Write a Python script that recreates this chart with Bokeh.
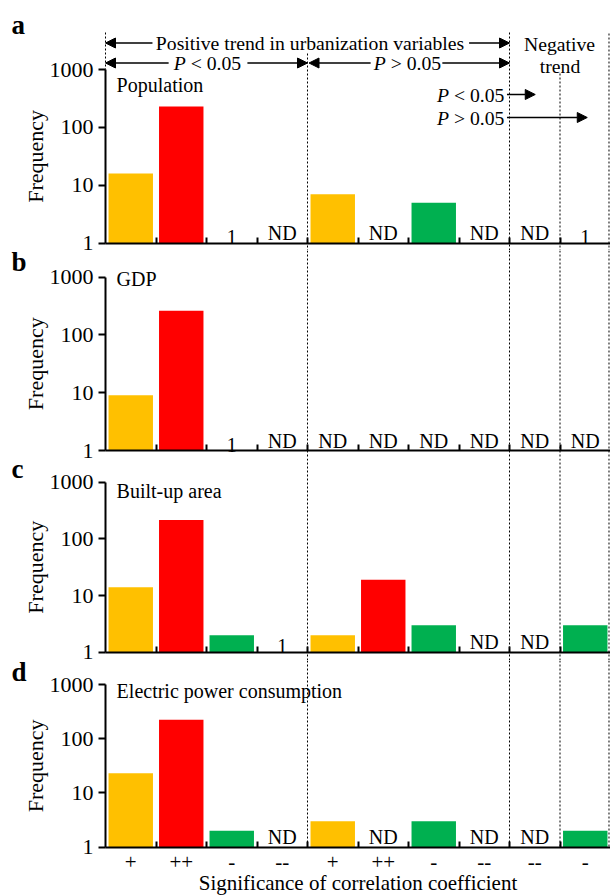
import math
from bokeh.plotting import figure
from bokeh.models import (Range1d, FixedTicker, Span, Label, Arrow, NormalHead)
from bokeh.layouts import column
from bokeh.embed import file_html
from bokeh.resources import INLINE
from bokeh.core.properties import value

# ---------------- data ----------------
categories = ["+", "++", "-", "--", "+", "++", "-", "--", "--", "-"]
bar_colors = ["#FFC000", "#FF0000", "#00B050", "#00B050", "#FFC000",
              "#FF0000", "#00B050", "#00B050", "#00B050", "#00B050"]
# None = no data (ND); 1 = single case (printed as "1")
population = [16, 230, 1, None, 7, None, 5, None, None, 1]
gdp = [9, 260, 1, None, None, None, None, None, None, None]
built_up = [14, 216, 2, 1, 2, 19, 3, None, None, 3]
electric = [23, 224, 2, None, 3, None, 3, None, None, 2]
panel_names = ["Population", "GDP", "Built-up area", "Electric power consumption"]
panel_letters = ["a", "b", "c", "d"]
y_ticks = [1, 10, 100, 1000]
group_bounds = [4, 8, 9, 10]
x_title = "Significance of correlation coefficient"
y_title = "Frequency"

FONT = "Liberation Serif"
W = 610
UNIT = 50.5                 # pixels per category
XL = -105 / UNIT            # left edge of the frame in category units
DASH = "2 2"
ANN = "19.7px"


class Geo:
    """pixel layout of one panel: figure height, baseline (y=1) and y=1000 rows"""
    def __init__(self, h, base_px, top_px):
        self.h, self.b, self.t = h, base_px, top_px
        self.d = (base_px - top_px) / 3.0

    def y(self, px):
        return 10 ** ((self.b - px) / self.d)


def make_panel(values, name, letter, g, name_px, letter_px, last=False):
    p = figure(width=W, height=g.h, x_range=Range1d(XL, 10),
               y_range=Range1d(g.y(g.h), g.y(0)), y_axis_type="log",
               output_backend="svg", toolbar_location=None,
               min_border=0, min_border_left=0, min_border_right=0,
               min_border_top=0, min_border_bottom=0)
    p.outline_line_color = None
    p.grid.visible = False
    p.background_fill_color = "white"
    p.border_fill_color = "white"

    # y axis, fixed at x = 0 inside the frame
    ya = p.yaxis[0]
    ya.fixed_location = 0
    ya.ticker = FixedTicker(ticks=y_ticks, minor_ticks=[])
    ya.bounds = (1, 1000)
    ya.major_label_overrides = {t: str(t) for t in y_ticks}
    ya.major_label_text_font = FONT
    ya.major_label_text_font_size = "22px"
    ya.major_label_text_color = "black"
    ya.major_label_standoff = 5
    ya.major_tick_out = 7
    ya.major_tick_in = 0
    ya.major_tick_line_width = 2
    ya.axis_line_width = 2
    ya.axis_line_color = "black"

    # x axis, fixed at y = 1
    centers = [i + 0.5 for i in range(len(categories))]
    xa = p.xaxis[0]
    xa.fixed_location = 1
    xa.bounds = (0, 10)
    xa.major_tick_in = 0
    xa.major_tick_out = 0
    xa.minor_tick_in = 6
    xa.minor_tick_out = 0
    xa.minor_tick_line_width = 2
    xa.minor_tick_line_color = "black"
    xa.axis_line_width = 2
    xa.axis_line_color = "black"
    if last:
        xa.ticker = FixedTicker(ticks=centers, minor_ticks=list(range(1, len(categories))))
        xa.major_label_overrides = {c: lab for c, lab in zip(centers, categories)}
        xa.major_label_text_font = FONT
        xa.major_label_text_color = "black"
        xa.major_label_text_font_size = "21px"
        xa.major_label_standoff = 8
    else:
        xa.ticker = FixedTicker(ticks=[], minor_ticks=list(range(1, len(categories))))
        xa.major_label_standoff = 0

    # y title and panel letter
    p.add_layout(Label(x=(35 - 105) / UNIT, y=g.y((g.t + g.b) / 2),
                       text=y_title, angle=math.pi / 2, text_font=FONT,
                       text_font_size="22px", text_align="center",
                       text_baseline="middle", text_color="black"))
    p.add_layout(Label(x=(11 - 105) / UNIT, y=g.y(letter_px), text=letter,
                       text_font=FONT, text_font_size="27px", text_font_style="bold",
                       text_baseline="middle", text_align="left", text_color="black"))

    # bars and the "1" / "ND" notes
    bx, bt, bc = [], [], []
    tx, tt = [], []
    for c, v, col in zip(centers, values, bar_colors):
        if v is None:
            tx.append(c); tt.append("ND")
        elif v <= 1:
            tx.append(c); tt.append("1")
        else:
            bx.append(c); bt.append(v); bc.append(col)
    p.vbar(x=bx, top=bt, bottom=1, width=0.88, fill_color=bc, line_color=None)
    p.text(x=tx, y=[1] * len(tx), text=tt, text_font=value(FONT),
           text_font_size=value("20px"), text_align="center",
           text_baseline="bottom", y_offset=1, text_color="black")

    # panel name
    p.add_layout(Label(x=0.22, y=g.y(name_px), text=name,
                       text_font=FONT, text_font_size="20px",
                       text_baseline="middle", text_align="left", text_color="black"))
    return p


def label_p(p, g, x, ypx, rest, align="left"):
    """italic P followed by upright relation text"""
    y = g.y(ypx)
    if align == "left":
        p.add_layout(Label(x=x, y=y, text="P", text_font=FONT, text_font_size=ANN,
                           text_font_style="italic", text_baseline="middle",
                           text_align="left", text_color="black"))
        p.add_layout(Label(x=x, y=y, x_offset=17, text=rest, text_font=FONT,
                           text_font_size=ANN, text_baseline="middle",
                           text_align="left", text_color="black"))
    else:
        p.add_layout(Label(x=x, y=y, text=rest, text_font=FONT, text_font_size=ANN,
                           text_baseline="middle", text_align="right", text_color="black"))
        p.add_layout(Label(x=x, y=y, x_offset=-55.5, text="P", text_font=FONT,
                           text_font_size=ANN, text_font_style="italic",
                           text_baseline="middle", text_align="right", text_color="black"))


def arrow(p, g, x0, x1, ypx):
    y = g.y(ypx)
    p.add_layout(Arrow(end=NormalHead(size=10, fill_color="black", line_color="black"),
                       x_start=x0, y_start=y, x_end=x1, y_end=y,
                       line_color="black", line_width=1.5))


# ---------------- panels ----------------
ga = Geo(250, 242.7, 69)
gb = Geo(208, 200, 26.5)
gc = Geo(202, 193.7, 23.7)
gd = Geo(235, 186.7, 24)

pa = make_panel(population, panel_names[0], panel_letters[0], ga, 84, 24)
pb = make_panel(gdp, panel_names[1], panel_letters[1], gb, 28.5, 11)
pc = make_panel(built_up, panel_names[2], panel_letters[2], gc, 32, 10)
pd = make_panel(electric, panel_names[3], panel_letters[3], gd, 30, 11, last=True)

# separators: full height in b and c
for p in (pb, pc):
    for x in group_bounds:
        p.add_layout(Span(location=min(x, 9.97), dimension="height", line_color="black",
                          line_width=1, line_dash=DASH))

# panel a separators (start heights differ)
sep_x = [0, 4, 8, 9, 9.97]
sep_top_px = [32, 53, 32, 73, 33]
sep_bottom = [1000] + [ga.y(ga.h)] * 4
pa.segment(x0=sep_x, x1=sep_x, y0=[ga.y(t) for t in sep_top_px],
           y1=sep_bottom, line_color="black", line_width=1, line_dash=DASH)

# panel d separators stop at the baseline
dx = [min(x, 9.97) for x in group_bounds]
pd.segment(x0=dx, x1=dx, y0=[gd.y(0)] * len(dx), y1=[1] * len(dx),
           line_color="black", line_width=1, line_dash=DASH)

# x title
pd.add_layout(Label(x=5, y=gd.y(222), text=x_title, text_font=FONT,
                    text_font_size="21px", text_align="center",
                    text_baseline="middle", text_color="black"))

# annotation rows in panel a
r1, r2, r3, r4 = 42.5, 62.5, 94, 117
arrow(pa, ga, 0.93, 0.0, r1)
pa.add_layout(Label(x=4.05, y=ga.y(r1),
                    text="Positive trend in urbanization variables", text_font=FONT,
                    text_font_size=ANN, text_align="center",
                    text_baseline="middle", text_color="black"))
arrow(pa, ga, 7.2, 8.0, r1)

arrow(pa, ga, 1.25, 0.0, r2)
label_p(pa, ga, 1.35, r2, "< 0.05")
arrow(pa, ga, 2.81, 4.0, r2)
arrow(pa, ga, 5.25, 4.03, r2)
label_p(pa, ga, 5.31, r2, "> 0.05")
arrow(pa, ga, 6.67, 8.0, r2)

pa.add_layout(Label(x=8.99, y=ga.y(43), text="Negative", text_font=FONT,
                    text_font_size=ANN, text_align="center",
                    text_baseline="middle", text_color="black"))
pa.add_layout(Label(x=9.0, y=ga.y(65), text="trend", text_font=FONT,
                    text_font_size=ANN, text_align="center",
                    text_baseline="middle", text_color="black"))

label_p(pa, ga, 7.9, r3, "< 0.05", align="right")
arrow(pa, ga, 7.95, 8.51, r3)
label_p(pa, ga, 7.9, r4, "> 0.05", align="right")
arrow(pa, ga, 7.95, 9.54, r4)

layout = column(pa, pb, pc, pd, spacing=0)
open("out.html", "w").write(file_html(layout, INLINE))
